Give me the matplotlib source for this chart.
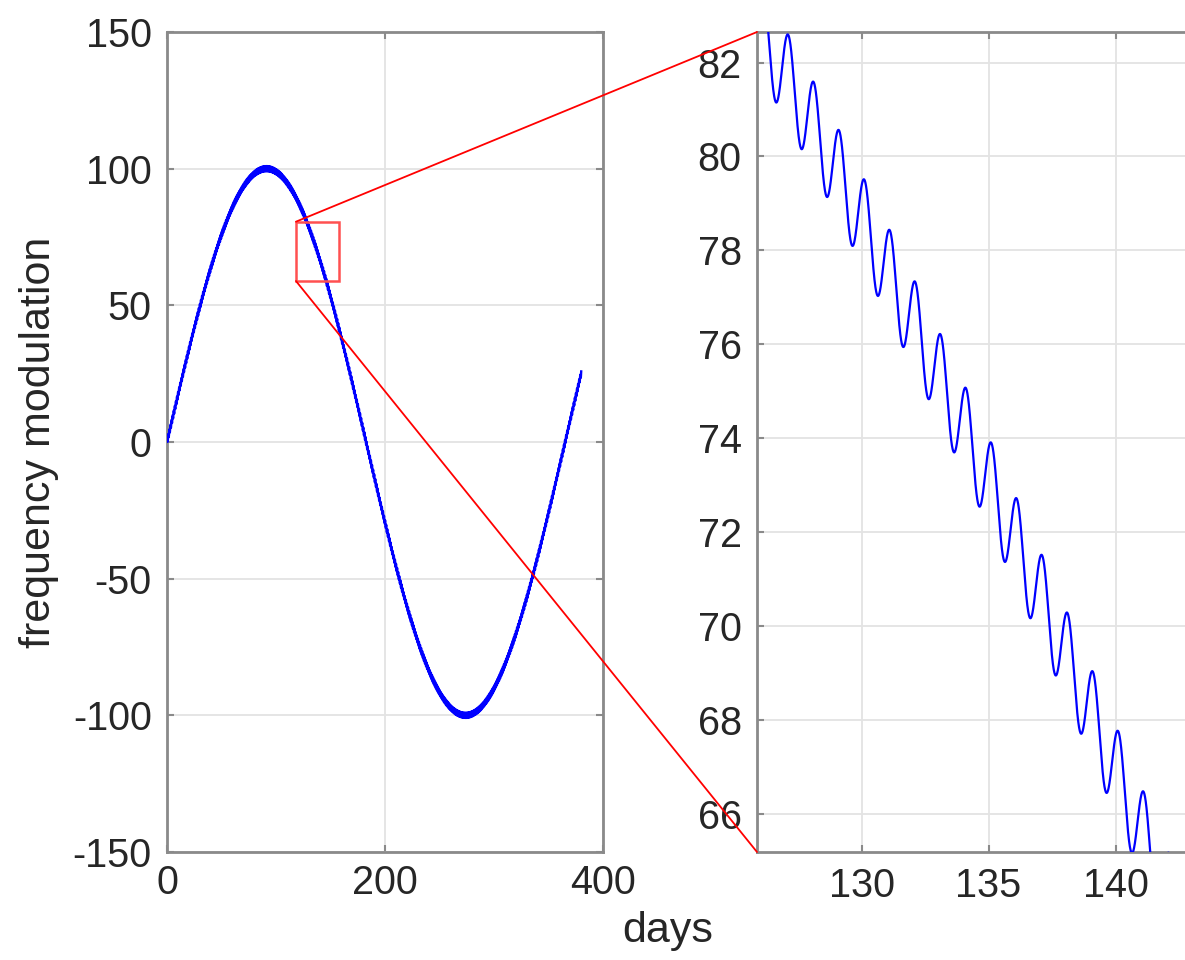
import numpy as np
import matplotlib
matplotlib.use("Agg")
import matplotlib.pyplot as plt
from matplotlib.patches import Rectangle, ConnectionPatch

# Frequency modulation model: annual (orbital) term plus a daily (rotation) term
annual_amplitude = 100.0      # frequency units
annual_period = 365.25        # days
daily_amplitude = 0.96
daily_period = 1.0            # days
daily_peak_offset = 0.115     # days
t_start, t_end = 0.0, 380.0

# Axis ranges and ticks
main_xlim = (0, 400)
main_ylim = (-150, 150)
main_xticks = [0, 200, 400]
main_yticks = [-150, -100, -50, 0, 50, 100, 150]
zoom_xlim = (125.88, 143.05)
zoom_ylim = (65.18, 82.65)
zoom_xticks = [130, 135, 140]
zoom_yticks = [66, 68, 70, 72, 74, 76, 78, 80, 82]

# Highlighted region on the main panel
box_x = (118.3, 157.8)
box_y = (58.9, 80.6)

x_label = "days"
y_label = "frequency modulation"

plt.rcParams["font.family"] = ["Liberation Sans", "DejaVu Sans"]
plt.rcParams["axes.unicode_minus"] = False

TEXT = "#262626"
SPINE = "#8a8a8a"
GRID = "#e3e3e3"

t = np.arange(t_start, t_end + 0.004, 0.004)
freq = (annual_amplitude * np.sin(2 * np.pi * t / annual_period)
        + daily_amplitude * np.cos(2 * np.pi * (t - daily_peak_offset) / daily_period))

fig = plt.figure(figsize=(11.85, 9.6), dpi=100)
ax = fig.add_axes([167 / 1185, 1 - 852 / 960, 436 / 1185, 820 / 960])
axz = fig.add_axes([757 / 1185, 1 - 852 / 960, 436 / 1185, 820 / 960])


def style(a, xticks, yticks, xlim, ylim, xpad, ypad):
    a.set_xlim(*xlim)
    a.set_ylim(*ylim)
    a.set_xticks(xticks)
    a.set_yticks(yticks)
    a.set_xticklabels([str(v) for v in xticks])
    a.set_yticklabels([str(v) for v in yticks])
    a.grid(True, color=GRID, lw=1.3)
    a.set_axisbelow(True)
    for s in a.spines.values():
        s.set_color(SPINE)
        s.set_linewidth(2.0)
    a.tick_params(direction="in", length=5, width=1.5, color=SPINE,
                  top=True, right=True, labelsize=28.5, labelcolor=TEXT)
    a.tick_params(axis="x", pad=xpad)
    a.tick_params(axis="y", pad=ypad)


style(ax, main_xticks, main_yticks, main_xlim, main_ylim, 9, 11)
style(axz, zoom_xticks, zoom_yticks, zoom_xlim, zoom_ylim, 11, 11)

ax.plot(t, freq, color="#0000ff", lw=1.7, zorder=3)
axz.plot(t, freq, color="#0000ff", lw=1.6, zorder=3)

ax.add_patch(Rectangle((box_x[0], box_y[0]), box_x[1] - box_x[0], box_y[1] - box_y[0],
                       fill=False, edgecolor="#ff5050", lw=1.8, zorder=4))

for ya, yb in ((box_y[1], 1), (box_y[0], 0)):
    con = ConnectionPatch(xyA=(box_x[0], ya), coordsA=ax.transData,
                          xyB=(0, yb), coordsB=axz.transAxes,
                          color="#ff0000", lw=1.3, zorder=5)
    fig.add_artist(con)

fig.text(668 / 1185, 1 - 942 / 960, x_label, ha="center", va="baseline",
         fontsize=31, color=TEXT)
fig.text(39 / 1185, 1 - 442 / 960, y_label, ha="center", va="center",
         rotation=90, fontsize=31, color=TEXT)

fig.savefig("out.png", dpi=100)
